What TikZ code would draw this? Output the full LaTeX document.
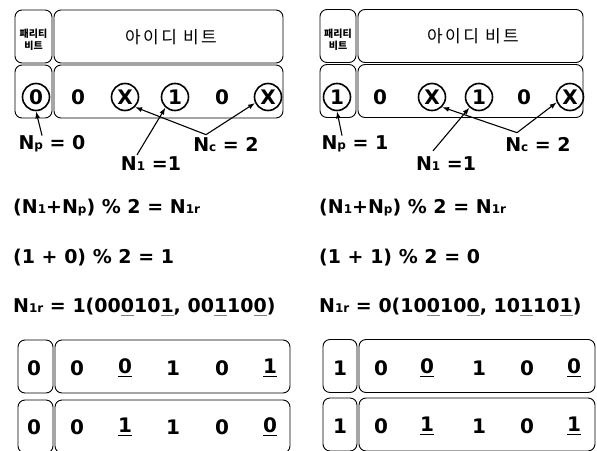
\documentclass[tikz,border=0pt]{standalone}
\usepackage{fontspec}
\setmainfont{DejaVu Sans}
\newfontfamily\kr{Noto Sans CJK KR}
\usetikzlibrary{positioning, arrows.meta, calc}
% small index letters on the baseline
\newcommand{\lo}[1]{{\fontsize{12pt}{12pt}\selectfont #1}}
% faint underline (in the formulas) and solid underline (in the boxes)
\newcommand{\du}[1]{\setbox0\hbox{#1}\rlap{\color{gray}\rule[-3pt]{\wd0}{0.6pt}}\box0\relax}
\newcommand{\su}[1]{\setbox0\hbox{#1}\rlap{\rule[-4pt]{\wd0}{1pt}}\box0\relax}

\begin{document}
\begin{tikzpicture}[x=1pt, y=-1pt,
  bitbox/.style={draw, line width=0.9pt, rounded corners=7pt, inner sep=0pt, minimum height=53pt},
  bit/.style={font=\bfseries\fontsize{20pt}{20pt}\selectfont, inner sep=0pt},
  cbit/.style={bit, draw, circle, line width=1.6pt, minimum size=27pt},
  lbl/.style={font=\bfseries\fontsize{19pt}{19pt}\selectfont, inner sep=0pt},
  eq/.style={lbl, anchor=west},
  ptr/.style={line width=1.1pt, -{Latex[length=7pt,width=5pt]}}]
\useasboundingbox (0,0) rectangle (597,450);
% ---------- left: parity 0 ----------
\node[bitbox, minimum width=37pt] (parA1) at (33.5,36.5) {};
\node[font=\kr\bfseries\fontsize{10pt}{12pt}\selectfont, align=center, inner sep=0pt] (parAt) at (33.5,40) {패리티\\비트};
\node[bitbox, minimum width=229pt] (idA1) at (168.5,36.5) {};
\node[font=\kr\fontsize{17pt}{17pt}\selectfont\addfontfeature{LetterSpace=14}, inner sep=0pt] (idAt) at (171,37) {아이디 비트};
\node[bitbox, minimum width=37pt] (parA2) at (33.5,91.5) {};
\node[bitbox, minimum width=229pt] (idA2) at (168.5,91.5) {};
\foreach \x/\d/\s [count=\i] in {36/0/cbit, 78/0/bit, 125/X/cbit, 175/1/cbit, 222/0/bit, 268/X/cbit}
  \node[\s] (a\i) at (\x,97) {\d};
\node[lbl] (npA) at (52,144) {N\lo{p} = 0};
\node[lbl] (n1A) at (151,164) {N\lo{1} =1};
\node[lbl] (ncA) at (226,145) {N\lo{c} = 2};
\draw[ptr] ([xshift=-10pt]npA.north) -- (a1.south);
\draw[ptr] ([xshift=-14pt,yshift=2pt]n1A.north) -- (a4.228);
\coordinate (ncAj) at ([xshift=-20pt,yshift=3pt]ncA.north);
\draw[ptr] (ncAj) -- (a3.-45);
\draw[ptr] (ncAj) -- (a6.205);
\node[eq] (eqA1) at (13,208) {(N\lo{1}+N\lo{p}) \% 2 = N\lo{1r}};
\node[eq] (eqA2) at (13,258) {(1 + 0) \% 2 = 1};
\node[eq] (eqA3) at (13,307) {N\lo{1r} = 1(00\du{0}10\du{1}, 00\du{1}10\du{0})};
\node[bitbox, minimum width=35pt] (parC1) at (35.5,366.5) {};
\node[bitbox, minimum width=235pt] (idC1) at (172.5,366.5) {};
\node[bitbox, minimum width=35pt] (parC2) at (35.5,426.5) {};
\node[bitbox, minimum width=235pt] (idC2) at (172.5,426.5) {};
\foreach \x/\d [count=\i] in {34/0, 77/0, 125/\su{0}, 173/1, 222/0, 270/\su{1}}
  \node[bit] (c\i) at (\x,368) {\d};
\foreach \x/\d [count=\i] in {34/0, 77/0, 125/\su{1}, 173/1, 222/0, 270/\su{0}}
  \node[bit] (e\i) at (\x,427) {\d};
% ---------- right: parity 1 ----------
\node[bitbox, minimum width=36pt] (parB1) at (338,36) {};
\node[font=\kr\bfseries\fontsize{10pt}{12pt}\selectfont, align=center, inner sep=0pt] (parBt) at (338,40) {패리티\\비트};
\node[bitbox, minimum width=225pt] (idB1) at (470.5,36) {};
\node[font=\kr\fontsize{17pt}{17pt}\selectfont\addfontfeature{LetterSpace=14}, inner sep=0pt] (idBt) at (473,36) {아이디 비트};
\node[bitbox, minimum width=36pt] (parB2) at (338,91) {};
\node[bitbox, minimum width=225pt] (idB2) at (470.5,91) {};
\foreach \x/\d/\s [count=\i] in {337/1/cbit, 380/0/bit, 432/X/cbit, 479/1/cbit, 524/0/bit, 570/X/cbit}
  \node[\s] (b\i) at (\x,97) {\d};
\node[lbl] (npB) at (355,144) {N\lo{p} = 1};
\node[lbl] (n1B) at (446,164) {N\lo{1} =1};
\node[lbl] (ncB) at (538,145) {N\lo{c} = 2};
\draw[ptr] ([xshift=-13pt]npB.north) -- (b1.south);
\draw[ptr] ([xshift=-13pt,yshift=6pt]n1B.north) -- (b4.228);
\coordinate (ncBj) at ([xshift=-21pt,yshift=5pt]ncB.north);
\draw[ptr] (ncBj) -- (b3.-45);
\draw[ptr] (ncBj) -- (b6.202);
\node[eq] (eqB1) at (319,208) {(N\lo{1}+N\lo{p}) \% 2 = N\lo{1r}};
\node[eq] (eqB2) at (319,258) {(1 + 1) \% 2 = 0};
\node[eq] (eqB3) at (319,307) {N\lo{1r} = 0(10\du{0}10\du{0}, 10\du{1}10\du{1})};
\node[bitbox, minimum width=34pt] (parD1) at (340,366) {};
\node[bitbox, minimum width=236pt] (idD1) at (477,366) {};
\node[bitbox, minimum width=34pt] (parD2) at (340,424.5) {};
\node[bitbox, minimum width=236pt] (idD2) at (477,424.5) {};
\foreach \x/\d [count=\i] in {340/1, 381/0, 427/\su{0}, 479/1, 527/0, 574/\su{0}}
  \node[bit] (d\i) at (\x,368) {\d};
\foreach \x/\d [count=\i] in {340/1, 381/0, 427/\su{1}, 479/1, 527/0, 574/\su{1}}
  \node[bit] (f\i) at (\x,426) {\d};
\end{tikzpicture}
\end{document}
